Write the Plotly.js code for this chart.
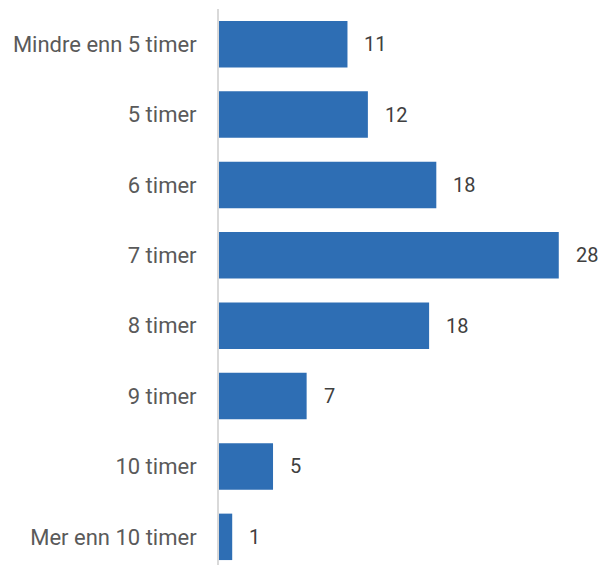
<!DOCTYPE html>
<html>
<head>
<meta charset="utf-8">
<script src="https://cdn.plot.ly/plotly-3.0.1.min.js"></script>
<style>html,body{margin:0;padding:0;background:#fff;}#chart{width:614px;height:565px;}</style>
</head>
<body>
<div id="chart"></div>
<script>
const categories = ["Mindre enn 5 timer","5 timer","6 timer","7 timer","8 timer","9 timer","10 timer","Mer enn 10 timer"];
const values = [10.7, 12.4, 18.1, 28.3, 17.5, 7.3, 4.5, 1.1];
const valueLabels = ["11","12","18","28","18","7","5","1"];

const trace = {
  type: "bar",
  orientation: "h",
  x: values,
  y: categories,
  marker: {color: "#2E6EB4", line: {width: 0}},
  hoverinfo: "none"
};

const annotations = categories.map((c, i) => ({
  x: values[i], y: c, xref: "x", yref: "y",
  text: valueLabels[i], showarrow: false,
  xanchor: "left", xshift: 15,
  font: {family: "Roboto, sans-serif", size: 20, color: "#404040"}
}));

const layout = {
  width: 614, height: 565,
  margin: {l: 219, r: 0, t: 9, b: 0},
  paper_bgcolor: "#fff", plot_bgcolor: "#fff",
  showlegend: false,
  bargap: 0.34,
  xaxis: {range: [0, 32.9], showgrid: false, zeroline: false, showticklabels: false, showline: false, fixedrange: true},
  yaxis: {type: "category", range: [7.4, -0.5], showgrid: false, zeroline: false,
          showline: true, linecolor: "#d9d9d9", linewidth: 2,
          ticks: "", ticklabelstandoff: 16,
          tickfont: {family: "Roboto, sans-serif", size: 22, color: "#5a5a5a"}},
  annotations: annotations,
  font: {family: "Roboto, sans-serif"}
};

Plotly.newPlot("chart", [trace], layout, {displayModeBar: false, staticPlot: true});
</script>
</body>
</html>
